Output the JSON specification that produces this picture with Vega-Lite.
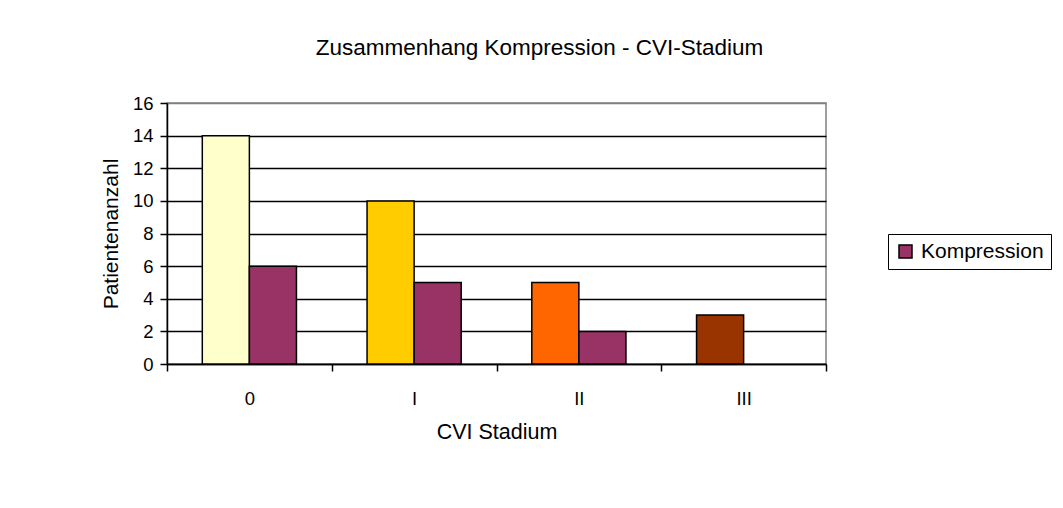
{
  "$schema": "https://vega.github.io/schema/vega-lite/v6.json",
  "width": 659,
  "height": 261,
  "autosize": {"type": "none"},
  "padding": {"left": 167, "top": 103, "right": 237, "bottom": 144},
  "background": "white",
  "config": {
    "font": "Liberation Sans",
    "view": {"stroke": "#808080", "strokeWidth": 1.5}
  },
  "title": {
    "text": "Zusammenhang Kompression - CVI-Stadium",
    "fontSize": 22.5,
    "fontWeight": "normal",
    "font": "Liberation Sans",
    "color": "black",
    "anchor": "middle",
    "dx": 43,
    "offset": 35
  },
  "data": {
    "values": [
      {"stadium": "0", "series": "Patienten", "value": 14},
      {"stadium": "I", "series": "Patienten", "value": 10},
      {"stadium": "II", "series": "Patienten", "value": 5},
      {"stadium": "III", "series": "Patienten", "value": 3},
      {"stadium": "0", "series": "Kompression", "value": 6},
      {"stadium": "I", "series": "Kompression", "value": 5},
      {"stadium": "II", "series": "Kompression", "value": 2}
    ]
  },
  "encoding": {
    "x": {
      "field": "stadium",
      "type": "nominal",
      "sort": ["0", "I", "II", "III"],
      "scale": {"domain": ["0", "I", "II", "III"], "paddingInner": 0, "paddingOuter": 0},
      "axis": {
        "labelAngle": 0,
        "tickBand": "extent",
        "tickSize": 7,
        "tickColor": "black",
        "tickWidth": 1.5,
        "domainColor": "black",
        "domainWidth": 1.5,
        "labelPadding": 18,
        "labelFontSize": 18.5,
        "labelColor": "black",
        "title": "CVI Stadium",
        "titleFontSize": 21.5,
        "titleFontWeight": "normal",
        "titleColor": "black",
        "titlePadding": 14,
        "grid": false
      }
    },
    "xOffset": {
      "field": "series",
      "type": "nominal",
      "sort": ["Patienten", "Kompression"],
      "scale": {"domain": ["Patienten", "Kompression"], "paddingInner": 0, "paddingOuter": 0.75}
    },
    "y": {
      "field": "value",
      "type": "quantitative",
      "scale": {"domain": [0, 16], "nice": false},
      "axis": {
        "values": [0, 2, 4, 6, 8, 10, 12, 14, 16],
        "tickSize": 7,
        "tickColor": "black",
        "tickWidth": 1.5,
        "domainColor": "black",
        "domainWidth": 1.5,
        "labelPadding": 7,
        "labelFontSize": 18.5,
        "labelColor": "black",
        "title": "Patientenanzahl",
        "titleFontSize": 21,
        "titleFontWeight": "normal",
        "titleColor": "black",
        "titlePadding": 11,
        "grid": true,
        "gridColor": {"condition": {"test": "datum.value === 16", "value": "#808080"}, "value": "black"},
        "gridWidth": 1.4,
        "gridOpacity": 1
      }
    }
  },
  "layer": [
    {
      "transform": [{"filter": "datum.series === 'Patienten'"}],
      "mark": {"type": "bar", "stroke": "black", "strokeWidth": 1.5},
      "encoding": {
        "color": {
          "field": "stadium",
          "type": "nominal",
          "scale": {"domain": ["0", "I", "II", "III"], "range": ["#FFFFCC", "#FFCC00", "#FF6600", "#993300"]},
          "legend": null
        }
      }
    },
    {
      "transform": [{"filter": "datum.series === 'Kompression'"}],
      "mark": {"type": "bar", "stroke": "black", "strokeWidth": 1.5},
      "encoding": {
        "color": {
          "field": "series",
          "type": "nominal",
          "scale": {"domain": ["Kompression"], "range": ["#993366"]},
          "legend": {
            "orient": "none",
            "legendX": 721,
            "legendY": 131,
            "title": null,
            "strokeColor": "black",
            "padding": 7,
            "symbolType": "square",
            "symbolSize": 169,
            "symbolStrokeColor": "black",
            "symbolStrokeWidth": 1.5,
            "symbolOpacity": 1,
            "labelFontSize": 21,
            "labelColor": "black",
            "labelOffset": 5
          }
        }
      }
    }
  ],
  "resolve": {"scale": {"color": "independent"}}
}
